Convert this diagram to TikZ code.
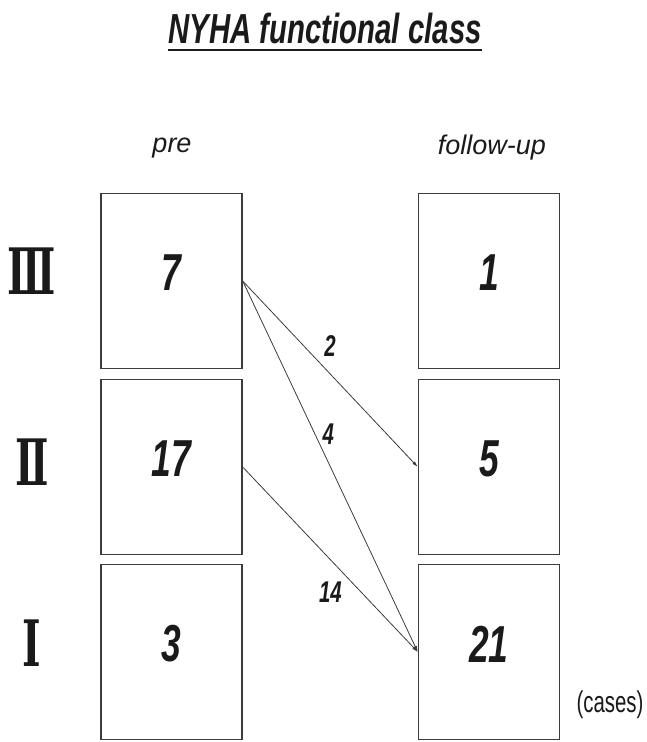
\documentclass[tikz,border=0pt]{standalone}
\usepackage{fontspec}
\setmainfont{Liberation Sans}
\newfontfamily\narrowfont[FakeStretch=0.68]{Liberation Sans}
\newfontfamily\titlefont[FakeStretch=0.7]{Liberation Sans}
\newfontfamily\romanfont[FakeStretch=0.62]{DejaVu Serif}
\usetikzlibrary{arrows.meta,positioning}
\definecolor{Ink}{HTML}{1A1A1A}
\definecolor{Frame}{HTML}{3C3C3C}

\tikzset{
  classbox/.style={draw=Frame,line width=1.4pt,minimum width=141pt,minimum height=175pt,inner sep=0pt},
  count/.style={font=\narrowfont\bfseries\itshape\fontsize{52}{52}\selectfont,text=Ink,yshift=8pt},
  flow/.style={-{Latex[length=6pt,width=3.5pt]},line width=0.8pt,draw=Frame},
  flowlbl/.style={font=\narrowfont\bfseries\itshape\fontsize{30}{30}\selectfont,text=Ink},
  roman/.style={font=\romanfont\bfseries\fontsize{64}{64}\selectfont,text=Ink},
  colhead/.style={font=\itshape\fontsize{27}{27}\selectfont,text=Ink}
}

\begin{document}
\begin{tikzpicture}[x=1pt,y=-1pt]
  \useasboundingbox (0,0) rectangle (646,742);
  % title
  \node[font=\titlefont\bfseries\itshape\fontsize{42}{42}\selectfont,text=Ink,inner sep=0pt,anchor=base] (title) at (325,43) {NYHA functional class};
  \draw[line width=2pt,Ink] ([yshift=-7pt]title.base west) -- ([yshift=-7pt]title.base east);
  \node[colhead] (pre) at (172,148) {pre};
  \node[colhead] (fol) at (492,148) {follow-up};
  % classes
  \node[roman] (rIII) at (32,271) {Ⅲ};
  \node[roman] (rII) at (32,462) {Ⅱ};
  \node[roman] (rI) at (32,643) {Ⅰ};
  \node[classbox] (preIII) at (171.5,281) {};
  \node[classbox] (preII) at (171.5,467) {};
  \node[classbox] (preI) at (171.5,652) {};
  \node[classbox] (folIII) at (489,281) {};
  \node[classbox] (folII) at (489,467) {};
  \node[classbox] (folI) at (489,652) {};
  \node[count] (nPreIII) at (preIII) {7};
  \node[count] (nPreII) at (preII) {17};
  \node[count] (nPreI) at (preI) {3};
  \node[count] (nFolIII) at (folIII) {1};
  \node[count] (nFolII) at (folII) {5};
  \node[count] (nFolI) at (folI) {21};
  % changes
  \draw[flow] (preIII.east) -- node[flowlbl,pos=0.35,xshift=26pt] {2} (folII.west);
  \draw[flow] (preIII.east) -- node[flowlbl,pos=0.414,xshift=13pt] {4} (folI.west);
  \draw[flow] (preII.east) -- node[flowlbl,pos=0.678,xshift=-31pt] {14} (folI.west);
  \node[font=\narrowfont\fontsize{30}{30}\selectfont,text=Ink] (unit) at (610,705) {(cases)};
\end{tikzpicture}
\end{document}
